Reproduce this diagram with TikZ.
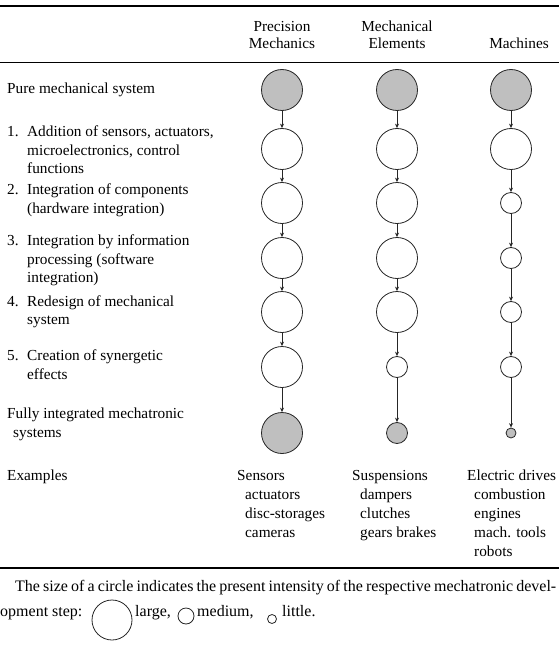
\documentclass[tikz,border=0pt]{standalone}
\usepackage{fontspec}
\setmainfont{Liberation Serif}
\usetikzlibrary{arrows.meta}
\newcommand\txtsize{\fontsize{15.3}{18}\selectfont}
\newcommand\notesize{\fontsize{16}{19}\selectfont}
\begin{document}
\begin{tikzpicture}[x=1pt,y=-1pt,
  stage/.style={circle, draw=black!85, line width=0.8pt, inner sep=0pt, minimum size=#1},
  big/.style={stage=41pt},
  mid/.style={stage=21pt},
  small/.style={stage=10pt},
  solid gray/.style={fill=gray!50},
  flow/.style={-{Stealth[length=4.5pt,width=4pt]}, line width=0.7pt, draw=black!85},
  lbl/.style={anchor=base west, inner sep=0pt, font=\txtsize},
  note/.style={anchor=base west, inner sep=0pt, font=\notesize},
  head/.style={anchor=base, inner sep=0pt, font=\txtsize},
  rule/.style={line width=#1, draw=black}]
\useasboundingbox (0,0) rectangle (559,647);

% table rules
\coordinate (r1a) at (0,6);   \coordinate (r1b) at (559,6);
\coordinate (r2a) at (0,62);  \coordinate (r2b) at (559,62);
\coordinate (r3a) at (0,568); \coordinate (r3b) at (559,568);
\draw[rule=2.4pt] (r1a) -- (r1b);
\draw[rule=0.8pt] (r2a) -- (r2b);
\draw[rule=2.4pt] (r3a) -- (r3b);

% column heads
\node[head] (hp1) at (282,32) {Precision};
\node[head] (hp2) at (282,48.5) {Mechanics};
\node[head] (he1) at (397,32) {Mechanical};
\node[head] (he2) at (397,48.5) {Elements};
\node[head] (hm1) at (519,48.5) {Machines};

% row labels
\node[lbl] (t0) at (7,94) {Pure mechanical system};
\node[lbl] (n1) at (7,137) {1.};
\node[lbl] (t1a) at (27,137) {Addition of sensors, actuators,};
\node[lbl] (t1b) at (27,155.5) {microelectronics, control};
\node[lbl] (t1c) at (27,174) {functions};
\node[lbl] (n2) at (7,194.5) {2.};
\node[lbl] (t2a) at (27,194.5) {Integration of components};
\node[lbl] (t2b) at (27,213) {(hardware integration)};
\node[lbl] (n3) at (7,245.5) {3.};
\node[lbl] (t3a) at (27,245.5) {Integration by information};
\node[lbl] (t3b) at (27,264) {processing (software};
\node[lbl] (t3c) at (27,282.5) {integration)};
\node[lbl] (n4) at (7,306) {4.};
\node[lbl] (t4a) at (27,306) {Redesign of mechanical};
\node[lbl] (t4b) at (27,324.5) {system};
\node[lbl] (n5) at (7,360.5) {5.};
\node[lbl] (t5a) at (27,360.5) {Creation of synergetic};
\node[lbl] (t5b) at (27,379) {effects};
\node[lbl] (t6a) at (7,418.5) {Fully integrated mechatronic};
\node[lbl] (t6b) at (13,437) {systems};
\node[lbl] (tx) at (7,480) {Examples};

% precision mechanics
\node[big, solid gray] (p0) at (282,90) {};
\node[big] (p1) at (282,149) {};
\node[big] (p2) at (282,203) {};
\node[big] (p3) at (282,258) {};
\node[big] (p4) at (282,312) {};
\node[big] (p5) at (282,367) {};
\node[big, solid gray] (p6) at (282,433) {};

% mechanical elements
\node[big, solid gray] (e0) at (397,90) {};
\node[big] (e1) at (397,149) {};
\node[big] (e2) at (397,203) {};
\node[big] (e3) at (397,258) {};
\node[big] (e4) at (397,312) {};
\node[mid] (e5) at (397,367) {};
\node[mid, solid gray] (e6) at (397,433) {};

% machines
\node[big, solid gray] (m0) at (511,90) {};
\node[big] (m1) at (511,149) {};
\node[mid] (m2) at (511,203) {};
\node[mid] (m3) at (511,258) {};
\node[mid] (m4) at (511,312) {};
\node[mid] (m5) at (511,367) {};
\node[small, solid gray] (m6) at (511,433) {};

\foreach \c in {p,e,m}{
  \foreach \i [evaluate=\i as \j using int(\i+1)] in {0,...,5}{
    \draw[flow] (\c\i) -- (\c\j);
  }
}

% examples
\node[lbl] (xp1) at (237,480) {Sensors};
\node[lbl] (xp2) at (245,499) {actuators};
\node[lbl] (xp3) at (245,518) {disc-storages};
\node[lbl] (xp4) at (245,537) {cameras};
\node[lbl] (xe1) at (352,480) {Suspensions};
\node[lbl] (xe2) at (360,499) {dampers};
\node[lbl] (xe3) at (360,518) {clutches};
\node[lbl] (xe4) at (360,537) {gears brakes};
\node[lbl] (xm1) at (467,480) {Electric drives};
\node[lbl] (xm2) at (474,499) {combustion};
\node[lbl] (xm3) at (474,518) {engines};
\node[lbl] (xm4) at (474,537) {mach. tools};
\node[lbl] (xm5) at (474,556) {robots};

% note below the table (first line set justified)
\node[note] (c1) at (15,591.5) {\hbox to 541pt{The size of a circle indicates the present intensity of the respective mechatronic devel-}};
\node[note] (c2) at (0,616.5) {opment step:};
\node[stage=40pt] (kl) at (112,620) {};
\node[note] (c3) at (135,616.5) {large,};
\node[stage=16pt] (km) at (186,616) {};
\node[note] (c4) at (197,616.5) {medium,};
\node[stage=9pt] (ks) at (272,619) {};
\node[note] (c5) at (282,616.5) {little.};
\end{tikzpicture}
\end{document}
